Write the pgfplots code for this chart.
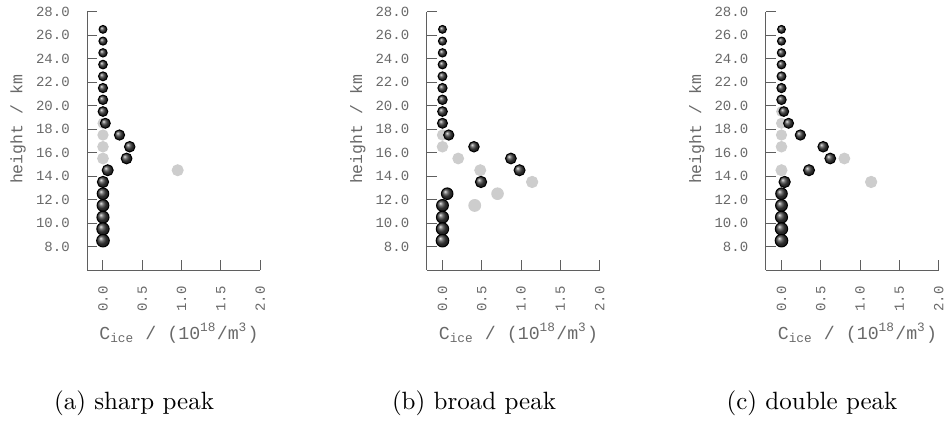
\documentclass[border=0pt]{standalone}
\usepackage{fontspec}
\usepackage{pgfplots}
\usepackage{pgfplotstable}
\pgfplotsset{compat=1.18}
\newfontfamily\plotfont{Liberation Mono}
\definecolor{axgray}{RGB}{95,95,95}
\definecolor{txtgray}{RGB}{105,105,105}
\definecolor{lightdot}{RGB}{205,205,205}

% retrieved (dark balls) and true (light dots) profiles, x in 10^18/m^3, y in km
\pgfplotstableread{
x y
0 26.5
0 25.5
0 24.5
0 23.5
0 22.5
0 21.5
0 20.5
0 19.5
0.03 18.5
0.21 17.5
0.34 16.5
0.30 15.5
0.06 14.5
0 13.5
0 12.5
0 11.5
0 10.5
0 9.5
0 8.5
}\adark
\pgfplotstableread{
x y
0 18.5
0 17.5
0 16.5
0 15.5
0.95 14.5
}\alight
\pgfplotstableread{
x y
0 26.5
0 25.5
0 24.5
0 23.5
0 22.5
0 21.5
0 20.5
0 19.5
0 18.5
0.08 17.5
0.40 16.5
0.87 15.5
0.98 14.5
0.49 13.5
0.06 12.5
0 11.5
0 10.5
0 9.5
0 8.5
}\bdark
\pgfplotstableread{
x y
0 17.5
0 16.5
0.20 15.5
0.48 14.5
1.14 13.5
0.70 12.5
0.41 11.5
}\blight
\pgfplotstableread{
x y
0 26.5
0 25.5
0 24.5
0 23.5
0 22.5
0 21.5
0 20.5
0.03 19.5
0.09 18.5
0.24 17.5
0.53 16.5
0.62 15.5
0.35 14.5
0.04 13.5
0 12.5
0 11.5
0 10.5
0 9.5
0 8.5
}\cdark
\pgfplotstableread{
x y
0 19.5
0 18.5
0 17.5
0 16.5
0.80 15.5
0 14.5
1.14 13.5
}\clight

\pgfplotsset{
  iceaxis/.style={
    scale only axis, width=69.2pt, height=103.3pt,
    xmin=-0.2, xmax=2.0, ymin=6, ymax=28,
    axis x line=bottom, axis y line=left,
    axis line style={axgray, line width=0.4pt, -},
    xtick={0,0.5,1,1.5,2}, ytick={8,10,...,28},
    tick align=inside, major tick length=4pt,
    tick style={axgray, line width=0.4pt},
    /pgf/number format/fixed, /pgf/number format/fixed zerofill,
    /pgf/number format/precision=1, /pgf/number format/assume math mode=true,
    ticklabel style={font=\fontsize{5.6}{6}\plotfont, text=txtgray},
    xticklabel style={rotate=90, anchor=east},
    xticklabel shift=3pt, yticklabel shift=3.5pt,
    xlabel={C\textsubscript{ice} /~(10\textsuperscript{18}/m\textsuperscript{3})},
    ylabel={height / km},
    x label style={font=\fontsize{7.3}{8}\plotfont, text=txtgray,
      at={(axis description cs:0.53,-0.244)}, anchor=center},
    y label style={font=\fontsize{6.6}{7}\plotfont, text=txtgray,
      at={(axis description cs:-0.399,0.544)}, anchor=center},
    clip=false,
  },
  sized/.style={scatter, only marks,
    visualization depends on={\thisrow{y}\as\hh},
    scatter/@pre marker code/.code={\pgfmathsetlength\pgfplotmarksize{2.52pt-0.053pt*(\hh-8.5)}},
    scatter/@post marker code/.code={}},
  truth/.style={sized, mark=*, mark options={fill=lightdot, draw=lightdot}},
  retr/.style={sized, mark=ball, mark options={ball color=black!75}},
}

\begin{document}
\begin{tikzpicture}
\path[use as bounding box] (0,0) rectangle (379.2pt,-168.4pt);

\begin{axis}[iceaxis, at={(34.9pt,-108pt)}, anchor=south west]
\addplot[truth] table {\alight};
\addplot[retr] table {\adark};
\end{axis}

\begin{axis}[iceaxis, at={(170.7pt,-108pt)}, anchor=south west]
\addplot[truth] table {\blight};
\addplot[retr] table {\bdark};
\end{axis}

\begin{axis}[iceaxis, at={(306.3pt,-108pt)}, anchor=south west]
\addplot[truth] table {\clight};
\addplot[retr] table {\cdark};
\end{axis}

\node at (53.6pt,-161.2pt) {(a) sharp peak};
\node at (189.6pt,-161.2pt) {(b) broad peak};
\node at (324.8pt,-161.2pt) {(c) double peak};
\end{tikzpicture}
\end{document}
